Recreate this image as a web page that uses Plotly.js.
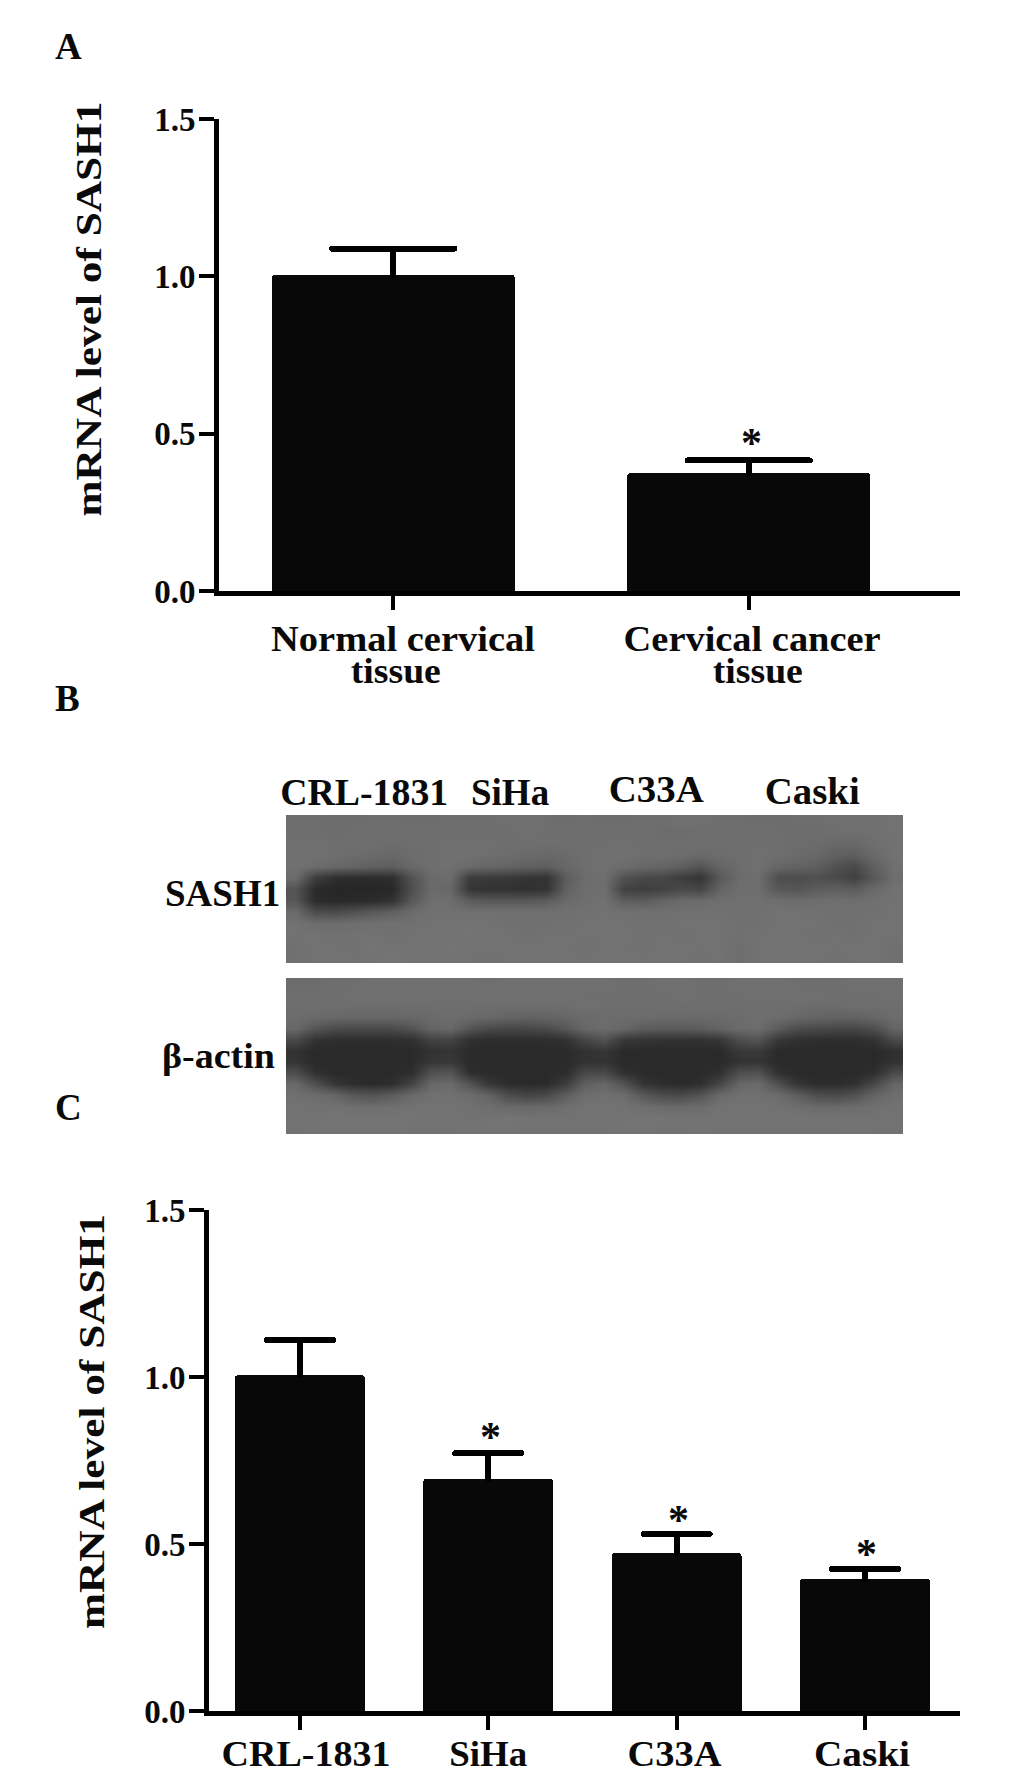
<!DOCTYPE html>
<html>
<head>
<meta charset="utf-8">
<script src="https://cdn.plot.ly/plotly-3.0.1.min.js"></script>
<style>
html,body{margin:0;padding:0;background:#fff}
#chart{width:1033px;height:1777px}
.errorbar path{stroke-linecap:round}
</style>
</head>
<body>
<div id="chart"></div>
<script>
// Panel A
const tissueFirstLines = ['Normal cervical', 'Cervical cancer'];
const tissueSecondLines = ['tissue', 'tissue'];
const tissueValues = [1.005, 0.375];
const tissueErrors = [0.083, 0.04];
const tissueStars = ['', '*'];
const tissueStarY = [null, 0.487];

// Panel C
const cellLines = ['CRL-1831', 'SiHa', 'C33A', 'Caski'];
const cellValues = [1.005, 0.695, 0.473, 0.395];
const cellErrors = [0.106, 0.077, 0.057, 0.03];
const cellStars = ['', '*', '*', '*'];
const cellStarY = [null, 0.836, 0.588, 0.486];

const yTicks = [0, 0.5, 1.0, 1.5];
const yTickLabels = ['0.0', '0.5', '1.0', '1.5'];
const yTitleText = 'mRNA level of SASH1';

// Panel B: grey levels read from the blot, row by row (top to bottom)
const sash1Blot = [
[110,110,108,108,110,110,108,108,110,110,110,112,112,110,108,110,108,108,110,110,112,112,110,110,108,108,110,110,112,112,112,114],
[110,110,108,110,110,110,110,110,110,110,110,110,112,110,110,110,110,110,110,108,108,110,110,110,110,110,108,108,110,110,112,114],
[112,112,110,110,110,108,110,110,112,112,112,110,110,110,110,110,110,112,110,110,110,110,110,110,110,110,108,108,104,104,110,114],
[112,112,110,108,106,104,108,110,112,112,110,108,106,104,106,110,112,112,110,110,108,106,108,110,112,110,106,104,96,94,106,114],
[112,108,104,100,96,94,104,110,112,106,102,100,96,94,104,110,112,108,104,100,94,84,100,108,112,102,98,94,80,72,96,112],
[108,62,46,44,44,46,82,106,108,60,58,56,52,50,92,108,110,82,72,70,60,52,88,108,110,78,76,80,74,64,88,110],
[84,42,38,38,38,40,78,106,104,54,50,50,48,52,96,110,110,66,62,66,74,70,100,110,110,88,86,92,96,92,106,114],
[86,44,40,42,44,50,88,110,110,92,88,88,88,92,106,110,112,94,92,100,106,108,110,112,112,110,108,110,110,110,112,114],
[106,76,74,80,88,96,108,112,112,112,112,112,112,112,112,112,114,112,112,112,112,112,112,112,112,114,114,112,112,112,112,114],
[114,108,108,110,112,112,112,114,114,114,114,112,112,112,112,114,114,114,112,112,114,114,114,112,112,114,114,114,112,112,114,114],
[114,114,112,114,114,112,114,114,114,116,114,114,112,114,114,114,114,114,114,114,112,114,114,112,114,114,114,112,114,112,114,114],
[112,114,114,112,116,114,114,114,116,114,114,114,114,114,114,112,114,114,112,114,114,114,114,110,114,114,114,114,114,114,114,112],
[112,114,114,114,114,116,114,114,114,114,112,114,114,114,114,114,114,114,114,114,114,112,114,110,114,114,114,114,112,114,114,112]
];
const actinBlot = [
[108,108,110,110,112,112,112,112,112,112,110,112,112,112,112,112,112,110,110,112,112,110,110,112,112,112,110,110,110,112,112,112],
[110,110,110,112,112,112,112,112,112,112,112,112,112,112,112,110,110,110,110,110,112,110,110,110,112,112,112,112,110,110,110,112],
[110,110,110,110,110,110,110,110,110,110,110,110,110,110,110,112,110,110,110,110,110,110,110,110,110,110,110,108,108,110,110,110],
[108,106,104,102,102,102,104,106,108,106,104,100,98,100,102,106,108,108,108,106,106,106,106,108,110,108,104,100,98,98,102,108],
[104,84,74,72,72,74,82,100,104,84,72,70,70,74,86,104,108,102,92,90,90,92,100,106,108,92,76,72,70,70,78,100],
[74,50,46,46,46,46,48,66,68,48,45,45,45,46,50,70,82,56,52,50,50,50,54,78,84,56,48,46,46,46,50,74],
[50,42,42,42,42,42,42,50,52,42,42,42,42,42,42,50,54,42,42,42,42,42,42,56,58,42,42,42,42,42,42,48],
[52,42,42,42,42,42,42,54,56,42,42,42,42,42,42,50,50,42,42,42,42,42,42,50,52,42,42,42,42,42,42,50],
[78,48,42,42,42,42,46,80,84,46,42,42,42,42,44,72,74,48,42,42,42,42,48,78,82,48,42,42,42,42,46,74],
[104,80,54,44,42,46,68,102,106,84,54,44,42,42,60,96,102,82,52,44,42,46,70,102,106,80,52,44,44,48,72,102],
[112,108,102,88,84,92,106,112,112,108,100,76,70,74,94,110,112,108,90,76,74,84,106,112,112,108,94,78,74,82,100,110],
[114,114,114,110,110,112,114,114,114,112,110,106,104,106,110,114,114,114,110,106,106,108,114,114,114,114,110,106,106,108,112,114],
[114,114,116,116,116,116,116,114,114,114,114,116,114,114,114,114,114,114,116,116,114,114,114,114,114,114,116,114,114,114,114,114],
[114,116,116,116,116,116,114,114,114,116,116,116,114,114,114,114,114,116,116,114,114,116,114,114,114,114,114,114,114,116,114,114]
];
const blotLabels = ['CRL-1831', 'SiHa', 'C33A', 'Caski'];
const blotRowLabels = ['SASH1', 'β-actin'];
const panelLetters = ['A', 'B', 'C'];

const W = 1033, H = 1777;
const px = v => v / W;
const py = v => 1 - v / H;
const serif = 'Liberation Serif, Times New Roman, serif';
const ink = '#0a0a0a';
const barColor = '#080808';
const tf = (size) => ({family: serif, size: size, color: ink, weight: 700});

function barTrace(xs, ys, errs, width, capHalf, xa, ya) {
  return {
    type: 'bar', x: xs, y: ys, width: width, xaxis: xa, yaxis: ya,
    marker: {color: barColor, cornerradius: 3, line: {width: 0}},
    error_y: {type: 'data', symmetric: false, array: errs, arrayminus: errs.map(() => 0),
              color: '#000', thickness: 6, width: capHalf},
    hoverinfo: 'skip', showlegend: false
  };
}
function blotTrace(z, xa, ya) {
  return {type: 'heatmap', z: z, xaxis: xa, yaxis: ya, zmin: 0, zmax: 255,
    colorscale: [[0, 'rgb(0,0,0)'], [1, 'rgb(255,255,255)']],
    showscale: false, zsmooth: 'best', hoverinfo: 'skip'};
}

const traces = [
  barTrace([0, 1], tissueValues, tissueErrors, 0.683, 61, 'x', 'y'),
  barTrace([0, 1, 2, 3], cellValues, cellErrors, 0.69, 33, 'x2', 'y2'),
  blotTrace(sash1Blot, 'x3', 'y3'),
  blotTrace(actinBlot, 'x4', 'y4')
];

function yAxis(domain, standoffX) {
  return {
    domain: domain, range: [0, 1.5], tickvals: yTicks, ticktext: yTickLabels,
    ticks: 'outside', ticklen: 15, tickwidth: 4, tickcolor: '#000',
    showline: true, linewidth: 5, linecolor: '#000', showgrid: false, zeroline: false,
    tickfont: tf(33), ticklabelstandoff: -3,
    title: {text: yTitleText, font: tf(35), standoff: standoffX}
  };
}
function xAxis(domain, range, vals, text, standoff) {
  return {
    domain: domain, range: range, tickvals: vals, ticktext: text,
    ticks: 'outside', ticklen: 14, tickwidth: 4, tickcolor: '#000',
    showline: true, linewidth: 5, linecolor: '#000', showgrid: false, zeroline: false,
    tickfont: tf(36), showticklabels: text.length > 0, ticklabelstandoff: standoff
  };
}
const hidden = (domain, range) => ({domain: domain, range: range, visible: false, fixedrange: true});

const annotations = [];
function note(text, x, y, size) {
  annotations.push({text: text, x: px(x), y: py(y), xref: 'paper', yref: 'paper',
    xanchor: 'center', yanchor: 'middle', showarrow: false, font: tf(size)});
}
// panel letters
[[68, 46], [67, 698], [68, 1107]].forEach((p, i) => note(panelLetters[i], p[0], p[1], 37));
// panel A labels, two tight lines
note(tissueFirstLines[0], 402.6, 640, 35);
note(tissueFirstLines[1], 752, 640, 35);
note(tissueSecondLines[0], 396, 672, 35);
note(tissueSecondLines[1], 758, 672, 35);
// blot labels
const blotLabelPos = [[364, 792], [510, 792], [656, 790], [812, 791]];
blotLabels.forEach((t, i) => note(t, blotLabelPos[i][0], blotLabelPos[i][1], 37));
note(blotRowLabels[0], 222, 893, 37);
note(blotRowLabels[1], 218, 1056, 36);
// significance stars
function star(t, x, y, xa, ya) {
  if (t) annotations.push({text: t, x: x, y: y, xref: xa, yref: ya, showarrow: false,
    xanchor: 'center', yanchor: 'middle', yshift: -5, font: tf(42)});
}
tissueStars.forEach((t, i) => star(t, i + 0.008, tissueStarY[i], 'x', 'y'));
cellStars.forEach((t, i) => star(t, i + 0.01, cellStarY[i], 'x2', 'y2'));

const layout = {
  width: W, height: H, autosize: false,
  margin: {l: 0, r: 0, t: 0, b: 0, pad: 0},
  paper_bgcolor: '#fff', plot_bgcolor: 'rgba(0,0,0,0)',
  showlegend: false, bargap: 0,
  xaxis: xAxis([px(219), px(960)], [-0.49, 1.594], [0, 1], [], 0),
  yaxis: yAxis([py(591), py(119)], 30),
  xaxis2: xAxis([px(209), px(960)], [-0.483, 3.505], [0, 1, 2, 3], cellLines, -7),
  yaxis2: Object.assign(yAxis([py(1711), py(1210)], 30), {anchor: 'x2'}),
  xaxis3: hidden([px(286), px(903)], [-0.5, 31.5]),
  yaxis3: hidden([py(963), py(815)], [12.5, -0.5]),
  xaxis4: hidden([px(286), px(903)], [-0.5, 31.5]),
  yaxis4: hidden([py(1134), py(978)], [13.5, -0.5]),
  annotations: annotations
};
layout.xaxis2.anchor = 'y2';
layout.xaxis3.anchor = 'y3'; layout.yaxis3.anchor = 'x3';
layout.xaxis4.anchor = 'y4'; layout.yaxis4.anchor = 'x4';

Plotly.newPlot('chart', traces, layout, {displayModeBar: false, staticPlot: true}).then(gd => {
  // the source figure's lettering is stretched along the line: reproduce the widths
  const fit = (el, len) => { if (el) { el.setAttribute('textLength', len); el.setAttribute('lengthAdjust', 'spacingAndGlyphs'); } };
  gd.querySelectorAll('.g-ytitle text, .g-y2title text').forEach(el => fit(el, 415));
  const a = gd.querySelector('.g-ytitle'); if (a) a.setAttribute('transform', 'translate(-13,-46)');
  const c = gd.querySelector('.g-y2title'); if (c) c.setAttribute('transform', 'translate(0,-39)');
  const widths = {'Normal cervical': 264, 'Cervical cancer': 257, 'tissue': 90,
                  'CRL-1831': 168, 'C33A': 95, 'Caski': 95, 'β-actin': 113};
  gd.querySelectorAll('.annotation-text').forEach(el => {
    const w = widths[el.textContent];
    if (w) fit(el, w);
  });
  // tick labels of panel C: source widths and small offsets from the ticks
  const tickFit = {'CRL-1831': [169, 6], 'SiHa': [78, 0], 'C33A': [94, -2], 'Caski': [96, -3]};
  gd.querySelectorAll('.xtick2 text, .x2tick text').forEach(el => {
    const t = tickFit[el.textContent];
    if (t) { fit(el, t[0]); el.setAttribute('x', parseFloat(el.getAttribute('x')) + t[1]); }
  });
  // each bar's error whisker goes upward only: drop the lower cap
  gd.querySelectorAll('.errorbar path').forEach(p => {
    p.setAttribute('d', p.getAttribute('d').replace(/m-?[\d.]+,0h[\d.]+$/, ''));
  });
});
</script>
</body>
</html>
